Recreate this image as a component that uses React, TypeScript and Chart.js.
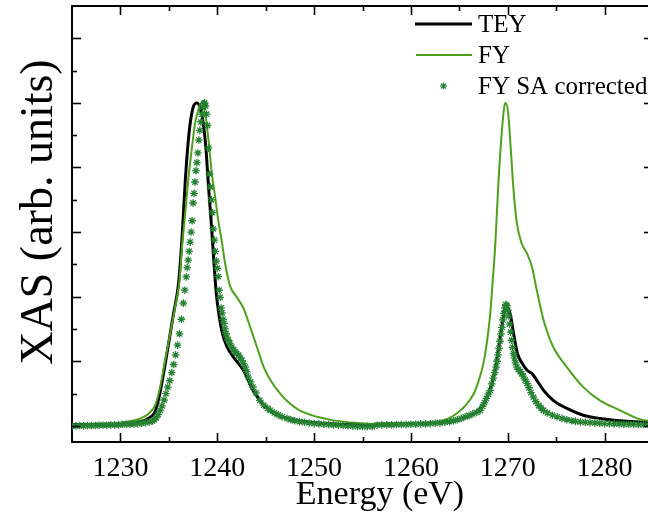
import React, { useEffect, useRef } from "react";
import { Chart, registerables } from "chart.js";

Chart.register(...registerables);

// ---- data ----
const teyEnergy = [
  1225, 1227, 1229, 1231, 1232, 1233, 1233.6, 1234.0, 1234.5, 1235.0,
  1235.5, 1236.0, 1236.4, 1236.7, 1237.1, 1237.5, 1237.9, 1238.4, 1238.8, 1239.1,
  1239.4, 1239.65, 1239.9, 1240.2, 1240.5, 1241.0, 1241.7, 1242.7, 1243.7, 1244.8,
  1246.2, 1248.2, 1250, 1252, 1254, 1256, 1256.6, 1258, 1260, 1263,
  1265, 1266.5, 1267.2, 1267.8, 1268.2, 1268.6, 1268.9, 1269.2, 1269.5, 1269.7,
  1269.85, 1270.05, 1270.3, 1270.6, 1271.0, 1271.5, 1272.0, 1272.5, 1273.0, 1273.7,
  1274.7, 1276.1, 1277.8, 1279.5, 1281.6, 1283.7, 1285,
];
const teyValue = [
  0.004, 0.004, 0.005, 0.008, 0.012, 0.025, 0.045, 0.09, 0.17, 0.26,
  0.35, 0.44, 0.6, 0.76, 0.91, 0.985, 1.0, 0.965, 0.87, 0.74,
  0.62, 0.51, 0.41, 0.34, 0.29, 0.245, 0.212, 0.172, 0.11, 0.064,
  0.033, 0.017, 0.01, 0.006, 0.004, 0.003, 0.005, 0.006, 0.007, 0.011,
  0.02, 0.038, 0.055, 0.085, 0.115, 0.16, 0.21, 0.27, 0.33, 0.365,
  0.376, 0.365, 0.34, 0.286, 0.224, 0.193, 0.172, 0.162, 0.141, 0.11,
  0.079, 0.054, 0.033, 0.023, 0.016, 0.012, 0.01,
];

const fyEnergy = [
  1225, 1227, 1229, 1230.5, 1232, 1233, 1233.6, 1234.1, 1234.6, 1235.1,
  1235.6, 1236.1, 1236.35, 1236.7, 1237.0, 1237.4, 1237.7, 1238.05, 1238.35, 1238.75,
  1239.1, 1239.45, 1239.8, 1240.1, 1240.45, 1240.8, 1241.3, 1242.0, 1242.7, 1243.4,
  1244.1, 1244.8, 1245.5, 1246.5, 1247.5, 1248.5, 1250.3, 1252, 1254, 1256,
  1256.6, 1258, 1260, 1262, 1263, 1264, 1264.8, 1265.7, 1266.5, 1267.0,
  1267.5, 1267.9, 1268.2, 1268.45, 1268.7, 1269.05, 1269.4, 1269.65, 1269.8, 1270.05,
  1270.3, 1270.6, 1270.95, 1271.45, 1272.0, 1272.5, 1273.0, 1273.7, 1274.7, 1276.1,
  1277.8, 1279.5, 1281.6, 1283.0, 1283.7, 1285,
];
const fyValue = [
  0.003, 0.004, 0.006, 0.012, 0.022, 0.04, 0.065, 0.12, 0.2, 0.28,
  0.36, 0.45, 0.55, 0.66, 0.76, 0.865, 0.935, 0.978, 1.0, 0.967,
  0.884, 0.78, 0.705, 0.637, 0.575, 0.505, 0.435, 0.399, 0.365, 0.306,
  0.244, 0.182, 0.141, 0.1, 0.069, 0.048, 0.028, 0.017, 0.01, 0.006,
  0.007, 0.007, 0.008, 0.01, 0.014, 0.025, 0.04, 0.065, 0.1, 0.14,
  0.195, 0.27, 0.35, 0.45, 0.555, 0.76, 0.915, 0.99, 1.0, 0.967,
  0.863, 0.729, 0.626, 0.564, 0.533, 0.492, 0.42, 0.327, 0.244, 0.182,
  0.12, 0.079, 0.048, 0.028, 0.02, 0.014,
];

const saEnergy = [
  1225.0, 1225.4, 1225.8, 1226.2, 1226.6, 1227.0, 1227.4, 1227.8, 1228.2, 1228.6,
  1229.0, 1229.4, 1229.8, 1230.2, 1230.6, 1231.0, 1231.4, 1231.8, 1232.2, 1232.6,
  1233.0, 1233.3, 1233.5, 1233.7, 1233.9, 1234.1, 1234.3, 1234.5, 1234.7, 1234.9,
  1235.1, 1235.3, 1235.5, 1235.7, 1235.9, 1236.1, 1236.3, 1236.5, 1236.65, 1236.8,
  1236.9, 1237.0, 1237.1, 1237.2, 1237.3, 1237.4, 1237.5, 1237.6, 1237.7, 1237.8,
  1237.9, 1238.0, 1238.1, 1238.2, 1238.3, 1238.4, 1238.5, 1238.6, 1238.7, 1238.8,
  1238.9, 1239.0, 1239.1, 1239.2, 1239.3, 1239.4, 1239.5, 1239.6, 1239.7, 1239.8,
  1239.9, 1240.0, 1240.1, 1240.2, 1240.3, 1240.4, 1240.5, 1240.6, 1240.7, 1240.8,
  1240.9, 1241.0, 1241.15, 1241.3, 1241.5, 1241.7, 1241.85, 1242.0, 1242.2, 1242.4,
  1242.55, 1242.7, 1242.9, 1243.05, 1243.2, 1243.45, 1243.7, 1244.0, 1244.4, 1244.8,
  1245.2, 1245.5, 1245.9, 1246.3, 1246.7, 1247.2, 1247.6, 1248.0, 1248.5, 1249.0,
  1249.5, 1250.0, 1250.5, 1251.0, 1251.5, 1252.0, 1252.5, 1253.0, 1253.5, 1254.0,
  1254.5, 1255.0, 1255.5, 1256.0, 1256.5, 1257.0, 1257.5, 1258.0, 1258.5, 1259.0,
  1259.5, 1260.0, 1260.5, 1261.0, 1261.5, 1262.0, 1262.5, 1263.0, 1263.5, 1264.0,
  1264.4, 1264.8, 1265.2, 1265.6, 1266.0, 1266.4, 1266.8, 1267.15, 1267.4, 1267.6,
  1267.8, 1268.0, 1268.2, 1268.35, 1268.5, 1268.65, 1268.8, 1268.9, 1269.0, 1269.1,
  1269.2, 1269.3, 1269.4, 1269.5, 1269.6, 1269.7, 1269.8, 1269.9, 1270.0, 1270.1,
  1270.2, 1270.3, 1270.4, 1270.5, 1270.6, 1270.7, 1270.8, 1270.95, 1271.1, 1271.3,
  1271.45, 1271.6, 1271.8, 1272.0, 1272.2, 1272.4, 1272.65, 1272.9, 1273.2, 1273.45,
  1273.7, 1274.1, 1274.6, 1275.1, 1275.6, 1276.1, 1276.6, 1277.0, 1277.5, 1278.0,
  1278.5, 1279.0, 1279.5, 1280.0, 1280.5, 1281.0, 1281.5, 1282.0, 1282.5, 1283.0,
  1283.5, 1284.0, 1284.5, 1285.0,
];
const saValue = [
  0.0, 0.0, 0.001, 0.0, 0.001, 0.001, 0.001, 0.002, 0.002, 0.002,
  0.003, 0.003, 0.003, 0.004, 0.005, 0.005, 0.006, 0.007, 0.008, 0.01,
  0.012, 0.015, 0.019, 0.025, 0.035, 0.048, 0.062, 0.08, 0.1, 0.12,
  0.14, 0.165, 0.19, 0.22, 0.25, 0.285, 0.33, 0.38, 0.42, 0.461,
  0.49, 0.513, 0.54, 0.569, 0.6, 0.635, 0.69, 0.72, 0.755, 0.79,
  0.815, 0.845, 0.885, 0.915, 0.941, 0.965, 0.987, 0.998, 1.0, 0.99,
  0.965, 0.93, 0.86, 0.78, 0.74, 0.7, 0.66, 0.61, 0.575, 0.54,
  0.51, 0.488, 0.462, 0.42, 0.398, 0.365, 0.35, 0.33, 0.317, 0.3,
  0.286, 0.275, 0.265, 0.255, 0.244, 0.235, 0.229, 0.224, 0.219, 0.21,
  0.203, 0.193, 0.182, 0.168, 0.151, 0.136, 0.12, 0.102, 0.079, 0.064,
  0.054, 0.048, 0.04, 0.034, 0.028, 0.023, 0.019, 0.016, 0.013, 0.011,
  0.009, 0.007, 0.006, 0.005, 0.004, 0.003, 0.002, 0.001, 0.0, -0.001,
  -0.002, -0.002, -0.002, -0.002, 0.002, 0.003, 0.003, 0.003, 0.004, 0.004,
  0.004, 0.005, 0.005, 0.006, 0.006, 0.007, 0.008, 0.009, 0.011, 0.013,
  0.016, 0.019, 0.023, 0.028, 0.032, 0.037, 0.042, 0.048, 0.06, 0.072,
  0.085, 0.098, 0.11, 0.13, 0.148, 0.165, 0.182, 0.2, 0.22, 0.24,
  0.262, 0.285, 0.305, 0.328, 0.348, 0.365, 0.376, 0.372, 0.358, 0.34,
  0.315, 0.29, 0.265, 0.243, 0.224, 0.21, 0.195, 0.182, 0.175, 0.168,
  0.162, 0.154, 0.142, 0.131, 0.118, 0.103, 0.089, 0.075, 0.063, 0.055,
  0.048, 0.04, 0.033, 0.028, 0.023, 0.019, 0.016, 0.014, 0.012, 0.011,
  0.01, 0.009, 0.008, 0.007, 0.007, 0.006, 0.006, 0.005, 0.005, 0.005,
  0.004, 0.004, 0.004, 0.004,
];

const seriesLabels = ["TEY", "FY", "FY SA corrected"];
const xMajorTicks = [1230, 1240, 1250, 1260, 1270, 1280];
const xMinorTicks = [1235, 1245, 1255, 1265, 1275];
const yMajorTicks = [0, 0.2, 0.4, 0.6, 0.8, 1.0, 1.2];
const yMinorTicks = [0.1, 0.3, 0.5, 0.7, 0.9, 1.1];
const xTitle = "Energy (eV)";
const yTitle = "XAS (arb. units)";

const SERIF = '"Liberation Serif", "Times New Roman", serif';
const TEY_COLOR = "#000000";
const FY_COLOR = "#4fa11d";
const SA_COLOR = "#268233";

const toPoints = (xs: number[], ys: number[]) => xs.map((x, i) => ({ x, y: ys[i] }));

export default function App() {
  const ref = useRef<HTMLCanvasElement | null>(null);

  useEffect(() => {
    const canvas = ref.current;
    if (!canvas) return;

    const decor = {
      id: "frameTicksLegend",
      afterDraw(chart: any) {
        const { ctx, chartArea: a, scales } = chart;
        const xs = scales.x;
        const ys = scales.y;
        ctx.save();
        ctx.strokeStyle = "#000";
        ctx.lineWidth = 2;
        ctx.beginPath();
        ctx.moveTo(a.left, a.top);
        ctx.lineTo(a.right, a.top);
        ctx.lineTo(a.right, a.bottom);
        ctx.stroke();

        const seg = (x1: number, y1: number, x2: number, y2: number) => {
          ctx.beginPath();
          ctx.moveTo(x1, y1);
          ctx.lineTo(x2, y2);
          ctx.stroke();
        };
        ctx.lineWidth = 1.6;
        const xTicks = (vals: number[], len: number) => {
          vals.forEach((v) => {
            const px = Math.round(xs.getPixelForValue(v)) + 0.5;
            seg(px, a.bottom, px, a.bottom - len);
            seg(px, a.top, px, a.top + len);
          });
        };
        const yTicks = (vals: number[], len: number) => {
          vals.forEach((v) => {
            const py = Math.round(ys.getPixelForValue(v)) + 0.5;
            seg(a.left, py, a.left + len, py);
            seg(a.right, py, a.right - len, py);
          });
        };
        xTicks(xMajorTicks, 9);
        xTicks(xMinorTicks, 5);
        yTicks(yMajorTicks, 9);
        yTicks(yMinorTicks, 5);

        // axis titles
        ctx.fillStyle = "#000";
        ctx.font = `34px ${SERIF}`;
        ctx.textAlign = "center";
        ctx.textBaseline = "alphabetic";
        ctx.fillText(xTitle, 380, 504);

        ctx.save();
        ctx.translate(52, 212);
        ctx.rotate(-Math.PI / 2);
        ctx.font = `46px ${SERIF}`;
        ctx.textAlign = "center";
        ctx.textBaseline = "alphabetic";
        ctx.fillText(yTitle, 0, 0);
        ctx.restore();

        // legend
        ctx.font = `25px ${SERIF}`;
        ctx.textAlign = "left";
        ctx.textBaseline = "middle";
        const rows = [24, 55, 86];
        ctx.strokeStyle = TEY_COLOR;
        ctx.lineWidth = 3;
        seg(415, rows[0], 472, rows[0]);
        ctx.strokeStyle = FY_COLOR;
        ctx.lineWidth = 2;
        seg(416, rows[1], 472, rows[1]);
        ctx.strokeStyle = SA_COLOR;
        ctx.lineWidth = 1.2;
        const cx = 443.5, cy = rows[2], r = 3.5;
        seg(cx - r, cy, cx + r, cy);
        seg(cx, cy - r, cx, cy + r);
        const d = r * 0.7071;
        seg(cx - d, cy - d, cx + d, cy + d);
        seg(cx - d, cy + d, cx + d, cy - d);
        seriesLabels.forEach((t, i) => ctx.fillText(t, 478, rows[i] + 1));
        ctx.restore();
      },
    };

    const chart = new Chart(canvas, {
      type: "line",
      data: {
        datasets: [
          {
            label: seriesLabels[0],
            data: toPoints(teyEnergy, teyValue),
            borderColor: TEY_COLOR,
            backgroundColor: TEY_COLOR,
            borderWidth: 3,
            pointRadius: 0,
            cubicInterpolationMode: "monotone",
            order: 3,
          },
          {
            label: seriesLabels[1],
            data: toPoints(fyEnergy, fyValue),
            borderColor: FY_COLOR,
            backgroundColor: FY_COLOR,
            borderWidth: 2,
            pointRadius: 0,
            cubicInterpolationMode: "monotone",
            order: 2,
          },
          {
            label: seriesLabels[2],
            data: toPoints(saEnergy, saValue),
            showLine: false,
            borderColor: SA_COLOR,
            backgroundColor: SA_COLOR,
            pointStyle: "star",
            pointRadius: 3.8,
            pointBorderWidth: 1.3,
            order: 1,
          },
        ],
      },
      options: {
        responsive: false,
        animation: false,
        devicePixelRatio: 1,
        layout: { padding: { top: 6, right: 7, left: 0, bottom: 0 } },
        plugins: { legend: { display: false }, tooltip: { enabled: false } },
        scales: {
          x: {
            type: "linear",
            min: 1225,
            max: 1285,
            afterBuildTicks: (s: any) => {
              s.ticks = xMajorTicks.map((v) => ({ value: v }));
            },
            afterFit: (s: any) => {
              s.height = 75;
            },
            grid: { display: false, drawTicks: false },
            border: { display: true, color: "#000", width: 2 },
            ticks: {
              color: "#000",
              font: { family: SERIF, size: 28 },
              padding: 10,
              maxRotation: 0,
              autoSkip: false,
              callback: (v: any) => String(v),
            },
          },
          y: {
            type: "linear",
            min: -0.05,
            max: 1.3,
            afterFit: (s: any) => {
              s.width = 72;
            },
            grid: { display: false, drawTicks: false },
            border: { display: true, color: "#000", width: 2 },
            ticks: { display: false },
          },
        },
      },
      plugins: [decor],
    } as any);

    return () => chart.destroy();
  }, []);

  return (
    <div
      style={{
        position: "fixed",
        left: 0,
        top: 0,
        width: 648,
        height: 517,
        overflow: "hidden",
        background: "#fff",
      }}
    >
      <canvas ref={ref} width={660} height={517} style={{ display: "block" }} />
    </div>
  );
}
